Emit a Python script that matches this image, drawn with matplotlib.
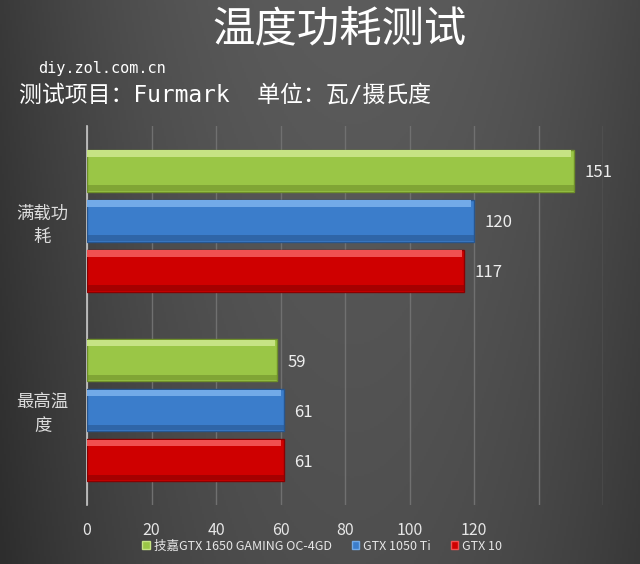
import numpy as np
import matplotlib.pyplot as plt
from matplotlib.patches import Patch

plt.rcParams['font.family'] = ['Noto Sans CJK SC', 'DejaVu Sans']

categories = ['满载功\n耗', '最高温\n度']
series = ['技嘉GTX 1650 GAMING OC-4GD', 'GTX 1050 Ti', 'GTX 10']
values = [
    [151, 59],   # 技嘉GTX 1650 GAMING OC-4GD
    [120, 61],   # GTX 1050 Ti
    [117, 61],   # GTX 10..
]
xticks = [0, 20, 40, 60, 80, 100, 120, 140, 160]
xticklabels = ['0', '20', '40', '60', '80', '100', '120', '', '']

main_c = ['#9ac646', '#3b7dcb', '#cf0000']
light_c = ['#c6e384', '#72aae8', '#f05050']
dark_c = ['#6f8f2a', '#27568f', '#8a0000']

fig = plt.figure(figsize=(6.4, 5.64), dpi=100)

# background gradient
bg = fig.add_axes([0, 0, 1, 1])
xx = np.linspace(0, 1, 320)
yy = np.linspace(0, 1, 282)
X, Y = np.meshgrid(xx, yy)
shade = 0.36 - 0.16 * ((X - 0.55) / 0.6) ** 2 - 0.05 * Y
shade = np.clip(shade, 0.18, 0.4)
bg.imshow(np.dstack([shade, shade, shade]), aspect='auto', extent=[0, 1, 0, 1])
bg.set_axis_off()

ax = fig.add_axes([87 / 640, 59 / 564, 516 / 640, 379 / 564])
ax.set_facecolor('none')
ax.set_xlim(0, 160)
ax.set_ylim(1.5, -0.5)

pitch = 0.264
h = 0.222
for j in range(len(series)):
    for i in range(len(categories)):
        y = i + (j - 1) * pitch
        v = values[j][i]
        ax.barh(y, v, height=h, color=main_c[j], edgecolor=dark_c[j], linewidth=1, zorder=3)
        ax.barh(y - h / 2 + 0.02, v - 0.8, height=0.035, color=light_c[j], linewidth=0, zorder=4)
        ax.barh(y + h / 2 - 0.02, v, height=0.03, color=dark_c[j], linewidth=0, alpha=0.6, zorder=4)
        ax.text(v + 3.2, y + 0.01, str(v), color='#eeeeee', fontsize=12, va='center', ha='left')

ax.set_xticks(xticks)
ax.set_xticklabels(xticklabels, color='#e6e6e6', fontsize=11.5)
ax.tick_params(axis='x', length=0, pad=12)
ax.set_yticks(range(len(categories)))
ax.set_yticklabels(categories, color='#dddddd', fontsize=12.5, linespacing=1.35, ha='center')
ax.tick_params(axis='y', length=0, pad=32)
ax.grid(axis='x', color='#707070', linewidth=1, zorder=0)
for s in ['top', 'right', 'bottom']:
    ax.spines[s].set_visible(False)
ax.spines['left'].set_color('#c8c8c8')
ax.spines['left'].set_linewidth(1.2)

fig.text(340 / 640, 1 - 30 / 564, '温度功耗测试', color='white', fontsize=30.5,
         ha='center', va='center')
fig.text(38 / 640, 1 - 68 / 564, 'diy.zol.com.cn', color='white', fontsize=11,
         family=['DejaVu Sans Mono'], ha='left', va='center')
fig.text(19 / 640, 1 - 95 / 564, '测试项目：Furmark  单位：瓦/摄氏度', color='white',
         fontsize=16.5, family=['DejaVu Sans Mono', 'Noto Sans CJK SC'], ha='left', va='center')

handles = [Patch(facecolor=main_c[j], edgecolor=light_c[j]) for j in range(len(series))]
fig.legend(handles, series, loc='center', bbox_to_anchor=(322 / 640, 1 - 546 / 564), ncol=3,
           frameon=False, fontsize=9, labelcolor='#e6e6e6', handlelength=0.6,
           handleheight=0.6, handletextpad=0.3, columnspacing=1.6)

fig.savefig('out.png', dpi=100)
